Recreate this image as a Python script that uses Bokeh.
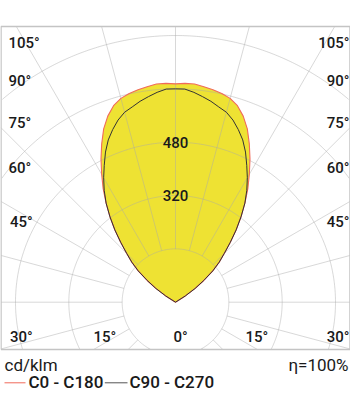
import numpy as np
from bokeh.plotting import figure
from bokeh.models import Range1d
from bokeh.embed import file_html
from bokeh.resources import INLINE
from bokeh.core.properties import value

# ---------------- data ----------------
gamma = [120, 122.5, 125, 127.5, 130, 132.5, 135, 137.5, 140, 142.5, 145, 147.5, 150,
         152.5, 155, 157.5, 160, 162.5, 165, 167.5, 170, 172.5, 175, 177.5, 180]
c0_c180 = [0, 35, 72, 107, 146, 178, 207, 243, 283, 323, 363, 404, 443,
           484, 524, 563, 594, 618, 633, 641, 647, 652, 657, 657, 655]
c90_c270 = [0, 35, 72, 107, 146, 178, 207, 243, 283, 323, 363, 398, 431,
            463, 497, 527, 551, 573, 590, 600, 612, 622, 632, 640, 640]
ring_values = [160, 320, 480, 640, 800]
ring_labelled = [320, 480]
angle_ticks = [0, 15, 30, 45, 60, 75, 90, 105]
unit_text = "cd/klm"
eff_text = "η=100%"
series_names = ["C0 - C180", "C90 - C270"]

# ---------------- layout helpers ----------------
W, H = 350, 395
OX, OY = 175.0, 301.7          # pixel position of the pole
S = 3.0                        # cd/klm per pixel


def X(px):
    return (px - OX) * S


def Y(py):
    return (OY - py) * S


FL, FR, FT, FB = X(0.5), X(349.5), Y(26), Y(349)
FONT = value("Roboto Medium")

p = figure(width=W, height=H, output_backend="svg", toolbar_location=None,
           x_range=Range1d(X(0), X(W)), y_range=Range1d(Y(H), Y(0)),
           x_axis_type=None, y_axis_type=None, min_border=0)
p.outline_line_color = None
p.grid.visible = False
p.background_fill_color = "white"


def curve(vals):
    g = np.radians(np.array(gamma, dtype=float))
    v = np.array(vals, dtype=float)
    xr = v * np.sin(g)
    yr = -v * np.cos(g)
    xs = np.concatenate([xr, -xr[::-1]])
    ys = np.concatenate([yr, yr[::-1]])
    return xs, ys


xr, yr = curve(c0_c180)
xb, yb = curve(c90_c270)

# fill
p.patch(xr, yr, fill_color="#eee233", line_color=None)

# grid circles (clipped to frame)
t = np.linspace(0, 2 * np.pi, 721)
for r in ring_values:
    x = r * np.cos(t)
    y = r * np.sin(t)
    m = (x < FL) | (x > FR) | (y > FT) | (y < FB)
    x[m] = np.nan
    y[m] = np.nan
    p.line(x, y, line_color="#a8a8a8", line_alpha=0.45, line_width=1)

# rays every 15 deg from the first ring to the frame
rxs, rys = [], []
for a in range(0, 360, 15):
    ar = np.radians(a)
    dx, dy = np.sin(ar), -np.cos(ar)
    ts = []
    if dx > 1e-9: ts.append(FR / dx)
    if dx < -1e-9: ts.append(FL / dx)
    if dy > 1e-9: ts.append(FT / dy)
    if dy < -1e-9: ts.append(FB / dy)
    tm = min(ts)
    r0 = ring_values[0]
    if tm > r0:
        rxs.append([r0 * dx, tm * dx]); rys.append([r0 * dy, tm * dy])
p.multi_line(rxs, rys, line_color="#a8a8a8", line_alpha=0.45, line_width=1)

# frame
p.line([FL, FL, FR, FR, FL], [FB, FT, FT, FB, FB], line_color="#c4c4c4", line_width=1.5)

# curves
p.line(xr, yr, line_color="#f06a5a", line_width=1.1)
p.line(xb, yb, line_color="#333333", line_width=1)

# ring labels
p.text([0] * len(ring_labelled), ring_labelled, text=[str(v) for v in ring_labelled],
       text_font=FONT, text_font_size="15px",
       text_align="center", text_baseline="middle", text_color="#1a1a1a")

# angle labels
side_y = {45: 221.7, 60: 167.5, 75: 122.5, 90: 80.3, 105: 42.7}
side_x = {45: 9.5, 60: 8, 75: 8, 90: 8, 105: 8}
lx, ly, lt = [], [], []
rx_, ry_, rt = [], [], []
for a in angle_ticks:
    if a in side_y:
        lx.append(X(side_x[a])); ly.append(Y(side_y[a])); lt.append(f"{a}°")
        rx_.append(X(349)); ry_.append(Y(side_y[a])); rt.append(f"{a}°")
bottom_left = {30: 9.5, 15: 93, 0: 173}
for a, xp in bottom_left.items():
    lx.append(X(xp)); ly.append(Y(336.7)); lt.append(f"{a}°")
lx.append(X(245)); ly.append(Y(336.7)); lt.append("15°")
rx_.append(X(349)); ry_.append(Y(336.7)); rt.append("30°")

common = dict(text_font=FONT, text_font_size="15px",
              text_baseline="middle", text_color="#1a1a1a")
p.text(lx, ly, text=lt, text_align="left", **common)
p.text(rx_, ry_, text=rt, text_align="right", **common)

# bottom texts
bt = dict(text_font=value("Roboto"), text_font_size="17px", text_baseline="middle",
          text_color="#1a1a1a")
p.text([X(4)], [Y(364.5)], text=[unit_text], text_align="left", **bt)
p.text([X(348)], [Y(364.5)], text=[eff_text], text_align="right", **bt)

# legend
p.line([X(4), X(25)], [Y(382.3), Y(382.3)], line_color="#f06a5a", line_width=1)
p.line([X(104.3), X(127)], [Y(382.3), Y(382.3)], line_color="#555555", line_width=1)
p.text([X(28), X(129)], [Y(381.5), Y(381.5)], text=series_names, text_align="left",
       text_font=FONT, text_font_size="17px",
       text_baseline="middle", text_color="#1a1a1a")

open("out.html", "w").write(file_html(p, INLINE))
